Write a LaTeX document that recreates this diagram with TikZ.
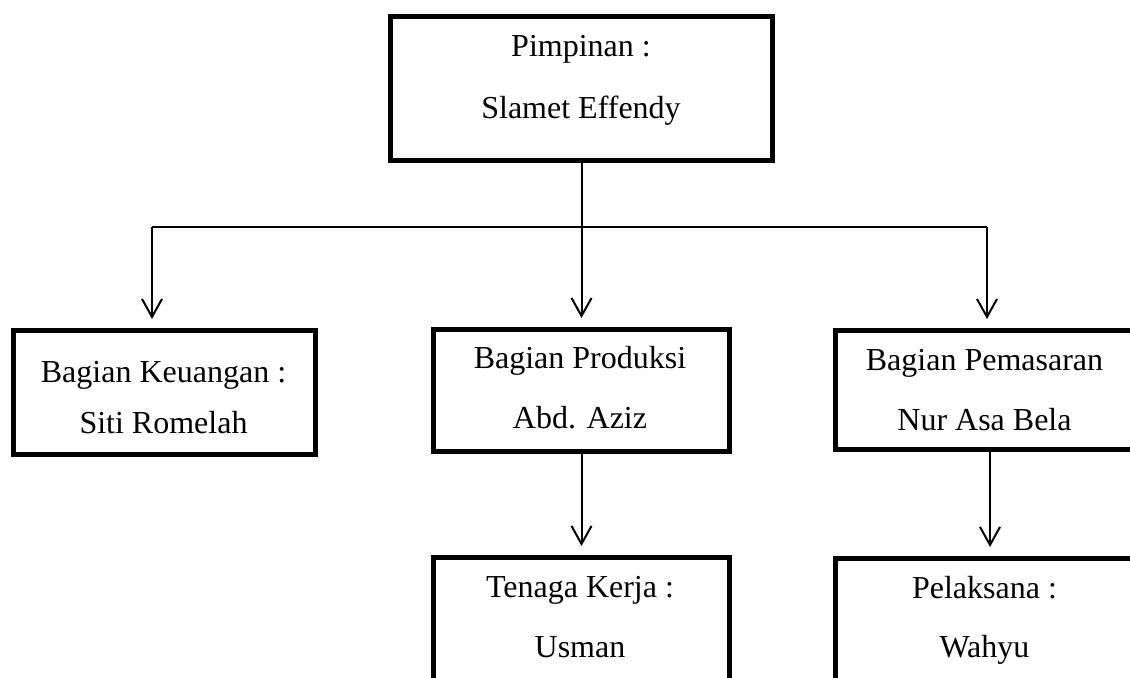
\documentclass[tikz,border=0pt]{standalone}
\usepackage{fontspec}
\setmainfont{Liberation Serif}
\usetikzlibrary{arrows.meta}
\begin{document}
\begin{tikzpicture}[x=0.5pt,y=-0.5pt,
  orgbox/.style={draw=black,line width=2.5pt,inner sep=0pt,rectangle},
  lbl/.style={anchor=base,inner sep=0pt,font=\fontsize{16}{19}\selectfont},
  conn/.style={draw=black,line width=1pt},
  arr/.style={conn,-{Straight Barb[length=9pt,width=10pt,line width=1pt]},shorten >=4.5pt}]
\useasboundingbox (0,0) rectangle (1130,677);
\clip (0,0) rectangle (1130,677);
\fill[white] (0,0) rectangle (1130,677);
% boxes
\node[orgbox,minimum width=191pt,minimum height=72pt] (top) at (581.5,88.5) {};
\node[orgbox,minimum width=151pt,minimum height=62pt] (kiri) at (164.5,392.5) {};
\node[orgbox,minimum width=148pt,minimum height=61pt] (prod) at (581.5,390.5) {};
\node[orgbox,minimum width=149.5pt,minimum height=59.5pt] (pem) at (985,390) {};
\node[orgbox,minimum width=148pt,minimum height=66pt] (tk) at (581.5,623.5) {};
\node[orgbox,minimum width=149.5pt,minimum height=66pt] (pel) at (985,624.5) {};
% texts
\node[lbl] (t1) at (581,56) {Pimpinan :};
\node[lbl] (t2) at (581,118) {Slamet Effendy};
\node[lbl] (k1) at (163.5,382) {Bagian Keuangan :};
\node[lbl] (k2) at (163.5,433) {Siti Romelah};
\node[lbl] (p1) at (580,368) {Bagian Produksi};
\node[lbl] (p2) at (580,428) {Abd. Aziz};
\node[lbl] (m1) at (984.5,370) {Bagian Pemasaran};
\node[lbl] (m2) at (984.5,430) {Nur Asa Bela};
\node[lbl] (u1) at (580,597) {Tenaga Kerja :};
\node[lbl] (u2) at (580,657) {Usman};
\node[lbl] (w1) at (984.5,598) {Pelaksana :};
\node[lbl] (w2) at (984.5,657) {Wahyu};
% connectors
\coordinate (jl) at (152,227);
\coordinate (jr) at (987,227);
\draw[conn] (jl) -- (jr);
\draw[arr] (top.south) -- (prod.north);
\draw[arr] (jl) -- (jl |- kiri.north);
\draw[arr] (jr) -- (jr |- pem.north);
\draw[arr] (prod.south) -- (tk.north);
\draw[arr] ([xshift=2.5pt]pem.south) -- ([xshift=2.5pt]pel.north);
\end{tikzpicture}
\end{document}
